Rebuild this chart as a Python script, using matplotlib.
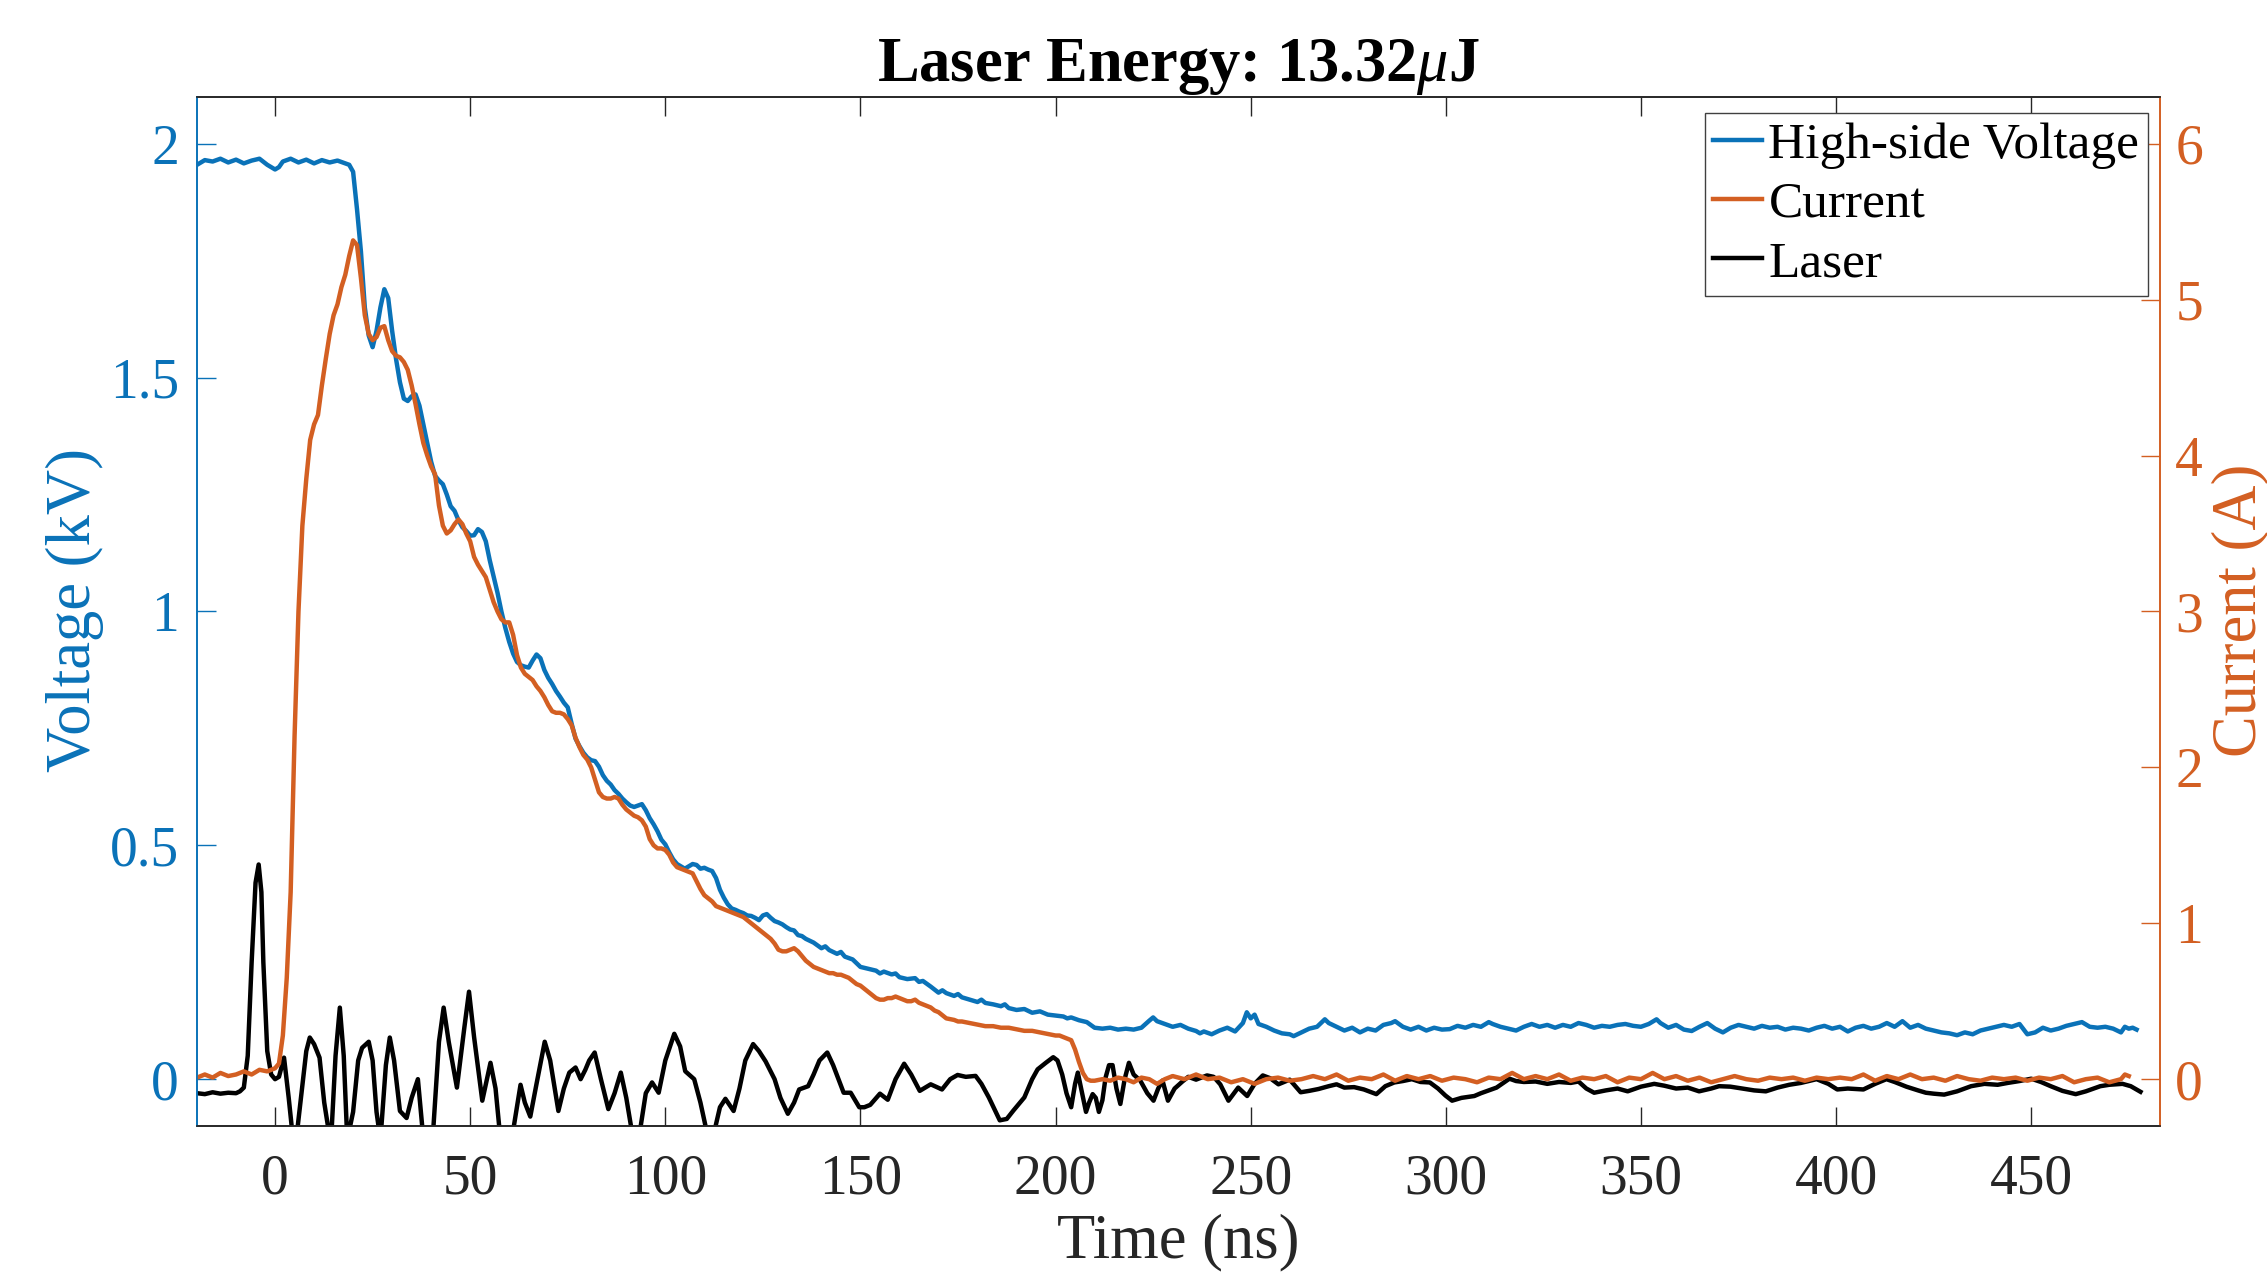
import matplotlib
matplotlib.use('Agg')
import matplotlib.pyplot as plt
from matplotlib.ticker import FormatStrFormatter

BLUE = '#0A72B8'
ORANGE = '#D35F22'
AXCOL = '0.15'

plt.rcParams['font.family'] = 'Liberation Serif'
plt.rcParams['mathtext.fontset'] = 'custom'
plt.rcParams['mathtext.rm'] = 'Liberation Serif'
plt.rcParams['mathtext.it'] = 'Liberation Serif:italic'
plt.rcParams['mathtext.bf'] = 'Liberation Serif:bold'

# high-side voltage (kV) vs time (ns)
volt_t = [-20, -18, -16, -14, -12, -10, -8, -6, -4, -2,
          0, 1, 2, 4, 6, 8, 10, 12, 14, 16,
          18, 19, 20, 21, 22, 23, 24, 25, 26, 27,
          28, 29, 30, 31, 32, 33, 34, 35, 36, 37,
          38, 39, 40, 41, 42, 43, 44, 45, 46, 47,
          48, 49, 50, 51, 52, 53, 54, 55, 56, 57,
          58, 59, 60, 61, 62, 63, 64, 65, 66, 67,
          68, 69, 70, 71, 72, 73, 74, 75, 76, 77,
          78, 79, 80, 81, 82, 83, 84, 85, 86, 87,
          88, 89, 90, 91, 92, 93, 94, 95, 96, 97,
          98, 99, 100, 101, 102, 103, 104, 105, 106, 107,
          108, 109, 110, 111, 112, 113, 114, 115, 116, 117,
          118, 119, 120, 121, 122, 123, 124, 125, 126, 127,
          128, 129, 130, 131, 132, 133, 134, 135, 136, 138,
          140, 141, 142, 144, 145, 146, 148, 150, 152, 154,
          155, 156, 158, 159, 160, 162, 164, 165, 166, 168,
          170, 171, 172, 174, 175, 176, 178, 180, 181, 182,
          184, 186, 187, 188, 190, 192, 193, 194, 196, 198,
          200, 202, 203, 204, 206, 208, 209, 210, 212, 214,
          216, 218, 220, 222, 224, 225, 226, 228, 230, 232,
          234, 236, 237, 238, 240, 242, 244, 246, 248, 249,
          250, 251, 252, 254, 256, 258, 260, 261, 263, 265,
          267, 269, 270, 272, 274, 276, 278, 280, 282, 284,
          286, 287, 289, 291, 293, 295, 297, 299, 301, 303,
          305, 307, 309, 311, 312, 314, 316, 318, 320, 322,
          324, 326, 328, 330, 332, 334, 336, 338, 340, 342,
          344, 346, 348, 350, 352, 354, 355, 357, 359, 361,
          363, 365, 367, 369, 371, 373, 375, 377, 379, 381,
          383, 385, 387, 389, 391, 393, 395, 397, 399, 401,
          403, 405, 407, 409, 411, 413, 415, 417, 419, 421,
          423, 425, 427, 429, 431, 433, 435, 437, 439, 441,
          443, 445, 447, 449, 451, 453, 455, 457, 459, 461,
          463, 465, 467, 469, 471, 473, 474, 475, 476, 477]
volt_kv = [1.955, 1.965, 1.962, 1.968, 1.960, 1.966, 1.958, 1.964, 1.968, 1.955,
           1.945, 1.950, 1.962, 1.968, 1.960, 1.966, 1.958, 1.965, 1.960, 1.964,
           1.958, 1.955, 1.940, 1.860, 1.770, 1.650, 1.590, 1.565, 1.600, 1.650,
           1.689, 1.670, 1.600, 1.540, 1.490, 1.455, 1.450, 1.460, 1.464, 1.440,
           1.400, 1.360, 1.320, 1.290, 1.280, 1.272, 1.250, 1.225, 1.215, 1.195,
           1.180, 1.172, 1.162, 1.163, 1.176, 1.170, 1.150, 1.110, 1.075, 1.040,
           1.000, 0.965, 0.935, 0.910, 0.892, 0.885, 0.882, 0.880, 0.895, 0.908,
           0.900, 0.875, 0.858, 0.845, 0.830, 0.818, 0.805, 0.795, 0.760, 0.728,
           0.712, 0.698, 0.688, 0.682, 0.680, 0.668, 0.650, 0.638, 0.630, 0.618,
           0.610, 0.600, 0.592, 0.585, 0.582, 0.585, 0.588, 0.575, 0.558, 0.545,
           0.530, 0.512, 0.502, 0.485, 0.470, 0.460, 0.455, 0.450, 0.455, 0.460,
           0.458, 0.450, 0.452, 0.448, 0.445, 0.430, 0.405, 0.388, 0.374, 0.365,
           0.362, 0.358, 0.355, 0.350, 0.349, 0.345, 0.340, 0.350, 0.353, 0.345,
           0.338, 0.335, 0.331, 0.325, 0.320, 0.318, 0.308, 0.306, 0.300, 0.292,
           0.280, 0.284, 0.276, 0.268, 0.272, 0.262, 0.256, 0.240, 0.236, 0.232,
           0.226, 0.230, 0.224, 0.226, 0.218, 0.214, 0.216, 0.208, 0.210, 0.198,
           0.185, 0.190, 0.184, 0.178, 0.182, 0.175, 0.170, 0.165, 0.170, 0.163,
           0.160, 0.156, 0.160, 0.152, 0.148, 0.150, 0.146, 0.142, 0.145, 0.138,
           0.136, 0.134, 0.130, 0.132, 0.126, 0.122, 0.116, 0.110, 0.108, 0.110,
           0.106, 0.108, 0.106, 0.110, 0.125, 0.132, 0.124, 0.118, 0.112, 0.116,
           0.108, 0.103, 0.098, 0.102, 0.096, 0.104, 0.110, 0.102, 0.120, 0.143,
           0.130, 0.138, 0.118, 0.112, 0.104, 0.098, 0.096, 0.092, 0.100, 0.108,
           0.112, 0.128, 0.120, 0.112, 0.104, 0.110, 0.100, 0.108, 0.104, 0.116,
           0.120, 0.124, 0.112, 0.106, 0.112, 0.104, 0.110, 0.106, 0.107, 0.114,
           0.110, 0.116, 0.112, 0.122, 0.118, 0.112, 0.108, 0.104, 0.112, 0.118,
           0.112, 0.116, 0.110, 0.116, 0.112, 0.120, 0.116, 0.110, 0.114, 0.112,
           0.116, 0.118, 0.114, 0.112, 0.118, 0.128, 0.120, 0.110, 0.116, 0.106,
           0.103, 0.112, 0.120, 0.108, 0.100, 0.110, 0.116, 0.112, 0.108, 0.114,
           0.110, 0.112, 0.106, 0.110, 0.108, 0.104, 0.110, 0.114, 0.108, 0.112,
           0.102, 0.110, 0.114, 0.108, 0.112, 0.120, 0.112, 0.124, 0.110, 0.116,
           0.108, 0.104, 0.100, 0.098, 0.094, 0.100, 0.096, 0.104, 0.108, 0.112,
           0.116, 0.112, 0.118, 0.096, 0.100, 0.110, 0.104, 0.108, 0.114, 0.118,
           0.122, 0.112, 0.110, 0.112, 0.108, 0.100, 0.112, 0.108, 0.110, 0.106]

# current (A) vs time (ns)
curr_t = [-20, -18, -16, -14, -12, -10, -8, -6, -4, -2,
          0, 1, 2, 3, 4, 5, 6, 7, 8, 9,
          10, 11, 12, 13, 14, 15, 16, 17, 18, 19,
          20, 21, 22, 23, 24, 25, 26, 27, 28, 29,
          30, 31, 32, 33, 34, 35, 36, 37, 38, 39,
          40, 41, 42, 43, 44, 45, 46, 47, 48, 49,
          50, 51, 52, 53, 54, 55, 56, 57, 58, 59,
          60, 61, 62, 63, 64, 65, 66, 67, 68, 69,
          70, 71, 72, 73, 74, 75, 76, 77, 78, 79,
          80, 81, 82, 83, 84, 85, 86, 87, 88, 89,
          90, 91, 92, 93, 94, 95, 96, 97, 98, 99,
          100, 101, 102, 103, 104, 105, 106, 107, 108, 109,
          110, 111, 112, 113, 114, 115, 116, 117, 118, 119,
          120, 121, 122, 123, 124, 125, 126, 127, 128, 129,
          130, 131, 132, 133, 134, 135, 136, 137, 138, 139,
          140, 141, 142, 143, 144, 145, 146, 147, 148, 149,
          150, 151, 152, 153, 154, 155, 156, 157, 158, 159,
          160, 161, 162, 163, 164, 165, 166, 167, 168, 169,
          170, 171, 172, 173, 174, 175, 176, 178, 180, 182,
          184, 186, 188, 190, 192, 194, 196, 198, 200, 201,
          202, 203, 204, 205, 206, 207, 208, 209, 210, 212,
          214, 216, 218, 220, 222, 224, 226, 228, 230, 233,
          236, 239, 242, 245, 248, 251, 254, 257, 260, 263,
          266, 269, 272, 275, 278, 281, 284, 287, 290, 293,
          296, 299, 302, 305, 308, 311, 314, 317, 320, 323,
          326, 329, 332, 335, 338, 341, 344, 347, 350, 353,
          356, 359, 362, 365, 368, 371, 374, 377, 380, 383,
          386, 389, 392, 395, 398, 401, 404, 407, 410, 413,
          416, 419, 422, 425, 428, 431, 434, 437, 440, 443,
          446, 449, 452, 455, 458, 461, 464, 467, 470, 473,
          474, 475]
curr_a = [0.01, 0.03, 0.01, 0.04, 0.02, 0.03, 0.05, 0.03, 0.06, 0.05,
          0.07, 0.10, 0.28, 0.65, 1.20, 2.20, 3.00, 3.55, 3.85, 4.10,
          4.20, 4.26, 4.45, 4.62, 4.78, 4.90, 4.97, 5.08, 5.16, 5.28,
          5.38, 5.35, 5.14, 4.90, 4.78, 4.74, 4.76, 4.82, 4.83, 4.74,
          4.67, 4.64, 4.63, 4.60, 4.55, 4.45, 4.33, 4.20, 4.08, 4.00,
          3.93, 3.88, 3.68, 3.55, 3.50, 3.52, 3.56, 3.59, 3.56, 3.50,
          3.45, 3.35, 3.30, 3.26, 3.22, 3.14, 3.06, 3.00, 2.95, 2.93,
          2.93, 2.85, 2.72, 2.64, 2.60, 2.58, 2.56, 2.52, 2.49, 2.45,
          2.40, 2.36, 2.35, 2.35, 2.34, 2.31, 2.27, 2.19, 2.13, 2.08,
          2.05, 2.00, 1.92, 1.84, 1.81, 1.80, 1.80, 1.81, 1.80, 1.76,
          1.73, 1.71, 1.69, 1.68, 1.66, 1.62, 1.54, 1.50, 1.48, 1.48,
          1.47, 1.44, 1.39, 1.36, 1.35, 1.34, 1.33, 1.32, 1.27, 1.22,
          1.18, 1.16, 1.14, 1.11, 1.10, 1.09, 1.08, 1.07, 1.06, 1.05,
          1.04, 1.02, 1.00, 0.98, 0.96, 0.94, 0.92, 0.90, 0.87, 0.83,
          0.82, 0.82, 0.83, 0.84, 0.82, 0.79, 0.76, 0.74, 0.72, 0.71,
          0.70, 0.69, 0.68, 0.68, 0.67, 0.67, 0.66, 0.65, 0.63, 0.61,
          0.60, 0.58, 0.56, 0.54, 0.52, 0.51, 0.51, 0.52, 0.52, 0.53,
          0.52, 0.51, 0.50, 0.50, 0.51, 0.49, 0.48, 0.47, 0.46, 0.44,
          0.43, 0.41, 0.39, 0.385, 0.38, 0.37, 0.37, 0.36, 0.35, 0.34,
          0.34, 0.33, 0.33, 0.32, 0.31, 0.31, 0.30, 0.29, 0.28, 0.28,
          0.27, 0.26, 0.25, 0.19, 0.11, 0.04, 0.00, -0.01, -0.01, 0.00,
          -0.01, 0.01, 0.00, -0.02, 0.01, 0.00, -0.03, 0.00, 0.02, 0.00,
          0.03, 0.00, 0.01, -0.02, 0.00, -0.03, 0.00, 0.01, -0.01, 0.00,
          0.02, 0.00, 0.03, -0.01, 0.01, 0.00, 0.03, -0.01, 0.02, 0.00,
          0.02, -0.01, 0.01, 0.00, -0.02, 0.01, 0.00, 0.04, 0.00, 0.02,
          0.00, 0.03, -0.01, 0.01, 0.00, 0.02, -0.02, 0.01, 0.00, 0.04,
          0.00, 0.02, -0.01, 0.01, -0.02, 0.00, 0.02, 0.00, -0.01, 0.01,
          0.00, 0.01, -0.01, 0.01, 0.00, 0.01, 0.00, 0.03, -0.01, 0.02,
          0.00, 0.03, 0.00, 0.01, -0.01, 0.02, 0.00, -0.01, 0.01, 0.00,
          0.01, -0.01, 0.01, 0.00, 0.02, -0.02, 0.00, 0.01, -0.02, 0.00,
          0.03, 0.02]

# laser photodiode signal (plotted on the voltage axis)
laser_t = [-20, -18, -16, -14, -12, -10, -9, -8, -7, -6,
           -5, -4.2, -3.5, -3, -2, -1, 0, 1, 2.3, 3.5,
           5, 6.5, 8, 8.9, 10, 11.4, 12.6, 14.3, 15.5, 16.6,
           17.6, 18.5, 20, 21.3, 22.3, 24, 25, 26, 27, 28.4,
           29.4, 30.5, 32, 33.7, 35, 36.6, 37.7, 39, 40.6, 42,
           43.2, 44.5, 46.6, 48.5, 49.7, 51, 53.1, 55.2, 56.5, 58,
           60, 61.2, 62.9, 64, 65.4, 67, 69.1, 70.5, 72.6, 74,
           75.4, 77, 78.3, 79.5, 80.5, 81.9, 83.5, 85.4, 87, 88.6,
           90, 91.4, 92.5, 93.7, 95, 96.6, 98.3, 100, 102.3, 103.8,
           105.1, 107.4, 109, 110.3, 111.5, 112.6, 114, 115.4, 117.5, 119,
           120.5, 122.5, 124, 125.7, 128, 129.5, 131.4, 133, 134.3, 136.6,
           138, 139.5, 141.5, 143, 145.7, 147.5, 149.7, 151, 152.5, 155,
           157, 159, 161.2, 163, 165.2, 168, 170.9, 173, 174.9, 177,
           179.5, 181, 182.9, 185.7, 187.5, 189.2, 192, 194, 195.4, 197.5,
           199.4, 200.5, 201.7, 202.8, 204, 205, 205.7, 206.8, 207.8, 208.6,
           209.5, 210.3, 211.1, 212, 212.8, 213.7, 214.6, 215.6, 216.6, 217.7,
           218.8, 220, 221.7, 223.5, 225.1, 226.3, 227.4, 228.8, 230.5, 232.5,
           234, 236, 238.8, 240.5, 242.2, 244.3, 246.8, 249.1, 251, 253.1,
           255, 257.1, 260, 262.8, 265, 267.4, 270, 272, 274, 276.5,
           279, 282.2, 284.5, 286.8, 289, 291.3, 293.5, 295.9, 298, 299.9,
           301.6, 304, 307.3, 309, 310.7, 313, 316.3, 318, 320, 323,
           326, 329, 332, 334, 336, 338, 341, 344, 346.6, 350,
           353.4, 356, 359, 362, 364.9, 368, 370, 372.9, 376, 379,
           382, 385, 388, 391, 393, 395, 398, 400.3, 403, 407,
           410, 412.9, 415, 418, 421, 423, 425, 427.7, 431, 434.6,
           438, 441.4, 444, 447, 450, 452.5, 455, 458, 461.4, 464,
           467.7, 470, 473.4, 475.5, 478]
laser_v = [-0.030, -0.032, -0.028, -0.031, -0.029, -0.030, -0.026, -0.018, 0.050, 0.250,
           0.420, 0.459, 0.400, 0.250, 0.060, 0.010, 0.000, 0.005, 0.046, -0.040,
           -0.160, -0.050, 0.060, 0.089, 0.075, 0.046, -0.050, -0.140, 0.050, 0.153,
           0.050, -0.130, -0.070, 0.040, 0.067, 0.080, 0.040, -0.070, -0.130, 0.030,
           0.089, 0.040, -0.068, -0.083, -0.040, 0.000, -0.100, -0.200, -0.100, 0.080,
           0.153, 0.080, -0.018, 0.110, 0.187, 0.090, -0.046, 0.035, -0.020, -0.150,
           -0.200, -0.100, -0.012, -0.050, -0.080, -0.010, 0.080, 0.040, -0.068, -0.020,
           0.014, 0.025, 0.000, 0.020, 0.040, 0.057, 0.000, -0.064, -0.030, 0.014,
           -0.040, -0.110, -0.150, -0.100, -0.030, -0.007, -0.029, 0.040, 0.097, 0.070,
           0.017, 0.000, -0.050, -0.100, -0.150, -0.110, -0.060, -0.042, -0.068, -0.020,
           0.040, 0.075, 0.060, 0.038, 0.000, -0.040, -0.074, -0.050, -0.022, -0.015,
           0.010, 0.040, 0.057, 0.030, -0.029, -0.029, -0.060, -0.060, -0.055, -0.031,
           -0.044, 0.000, 0.033, 0.010, -0.025, -0.011, -0.022, 0.000, 0.009, 0.005,
           0.007, -0.010, -0.039, -0.088, -0.085, -0.067, -0.039, 0.000, 0.021, 0.035,
           0.047, 0.040, 0.010, -0.030, -0.060, -0.010, 0.014, -0.030, -0.070, -0.050,
           -0.032, -0.040, -0.070, -0.045, 0.003, 0.030, 0.030, -0.020, -0.053, 0.000,
           0.035, 0.010, -0.003, -0.030, -0.046, -0.020, -0.003, -0.046, -0.020, -0.005,
           0.005, -0.001, 0.008, 0.005, -0.011, -0.046, -0.018, -0.036, -0.010, 0.008,
           0.002, -0.011, -0.001, -0.028, -0.025, -0.021, -0.015, -0.011, -0.018, -0.017,
           -0.022, -0.032, -0.015, -0.007, -0.004, 0.000, -0.006, -0.007, -0.020, -0.035,
           -0.046, -0.040, -0.036, -0.030, -0.025, -0.018, 0.001, -0.004, -0.006, -0.005,
           -0.010, -0.006, -0.008, -0.005, -0.020, -0.029, -0.024, -0.020, -0.026, -0.016,
           -0.010, -0.014, -0.020, -0.018, -0.026, -0.020, -0.015, -0.016, -0.020, -0.024,
           -0.026, -0.018, -0.012, -0.008, -0.004, 0.000, -0.010, -0.022, -0.020, -0.022,
           -0.010, 0.000, -0.006, -0.016, -0.024, -0.029, -0.031, -0.033, -0.026, -0.015,
           -0.010, -0.012, -0.008, -0.004, 0.001, -0.006, -0.015, -0.025, -0.032, -0.026,
           -0.015, -0.012, -0.010, -0.015, -0.027]

x_ticks = [0, 50, 100, 150, 200, 250, 300, 350, 400, 450]
volt_ticks = [0, 0.5, 1, 1.5, 2]
curr_ticks = [0, 1, 2, 3, 4, 5, 6]

fig = plt.figure(figsize=(22.67, 12.76), dpi=100)
ax = fig.add_axes([0.0869, 0.1176, 0.8659, 0.8064])
ax2 = ax.twinx()

lv, = ax.plot(volt_t, volt_kv, color=BLUE, lw=3.2, label='High-side Voltage')
ll, = ax.plot(laser_t, laser_v, color='black', lw=3.2, label='Laser')
lc, = ax2.plot(curr_t, curr_a, color=ORANGE, lw=3.2, label='Current')

ax.set_xlim(-20, 483)
ax.set_ylim(-0.1, 2.1)
ax2.set_ylim(-0.3, 6.3)

ax.set_xticks(x_ticks)
ax.set_yticks(volt_ticks)
ax2.set_yticks(curr_ticks)
ax.yaxis.set_major_formatter(FormatStrFormatter('%g'))

ax.tick_params(axis='x', direction='in', length=14, width=1, top=True,
               colors=AXCOL, labelsize=40, pad=20)
ax.tick_params(axis='y', direction='in', length=14, width=1,
               colors=BLUE, labelsize=40, pad=13)
ax2.tick_params(axis='y', direction='in', length=14, width=1,
                colors=ORANGE, labelsize=40, pad=11)

for a in (ax, ax2):
    a.spines['top'].set_color(AXCOL)
    a.spines['bottom'].set_color(AXCOL)
    a.spines['left'].set_color(BLUE)
    a.spines['right'].set_color(ORANGE)
    for s in a.spines.values():
        s.set_linewidth(1.2)

ax.set_title(r'Laser Energy: 13.32$\mu$J', fontsize=45, fontweight='bold', pad=8)
fig.text(0.5197, 0.026, 'Time (ns)', fontsize=45, color=AXCOL, ha='center', va='center')
fig.text(0.0331, 0.522, 'Voltage (kV)', fontsize=45, color=BLUE, rotation=90,
         ha='center', va='center')
fig.text(0.9885, 0.522, 'Current (A)', fontsize=45, color=ORANGE, rotation=90,
         ha='center', va='center')

leg = ax2.legend([lv, lc, ll], ['High-side Voltage', 'Current', 'Laser'],
                 loc='upper right', bbox_to_anchor=(0.9939, 0.9845), borderaxespad=0,
                 fontsize=37, handlelength=0.95, handletextpad=0.12, borderpad=0.17,
                 labelspacing=0.24, fancybox=False, framealpha=1)
leg.get_frame().set_edgecolor('0.25')
leg.get_frame().set_linewidth(1.0)

fig.savefig('out.png', dpi=100)
